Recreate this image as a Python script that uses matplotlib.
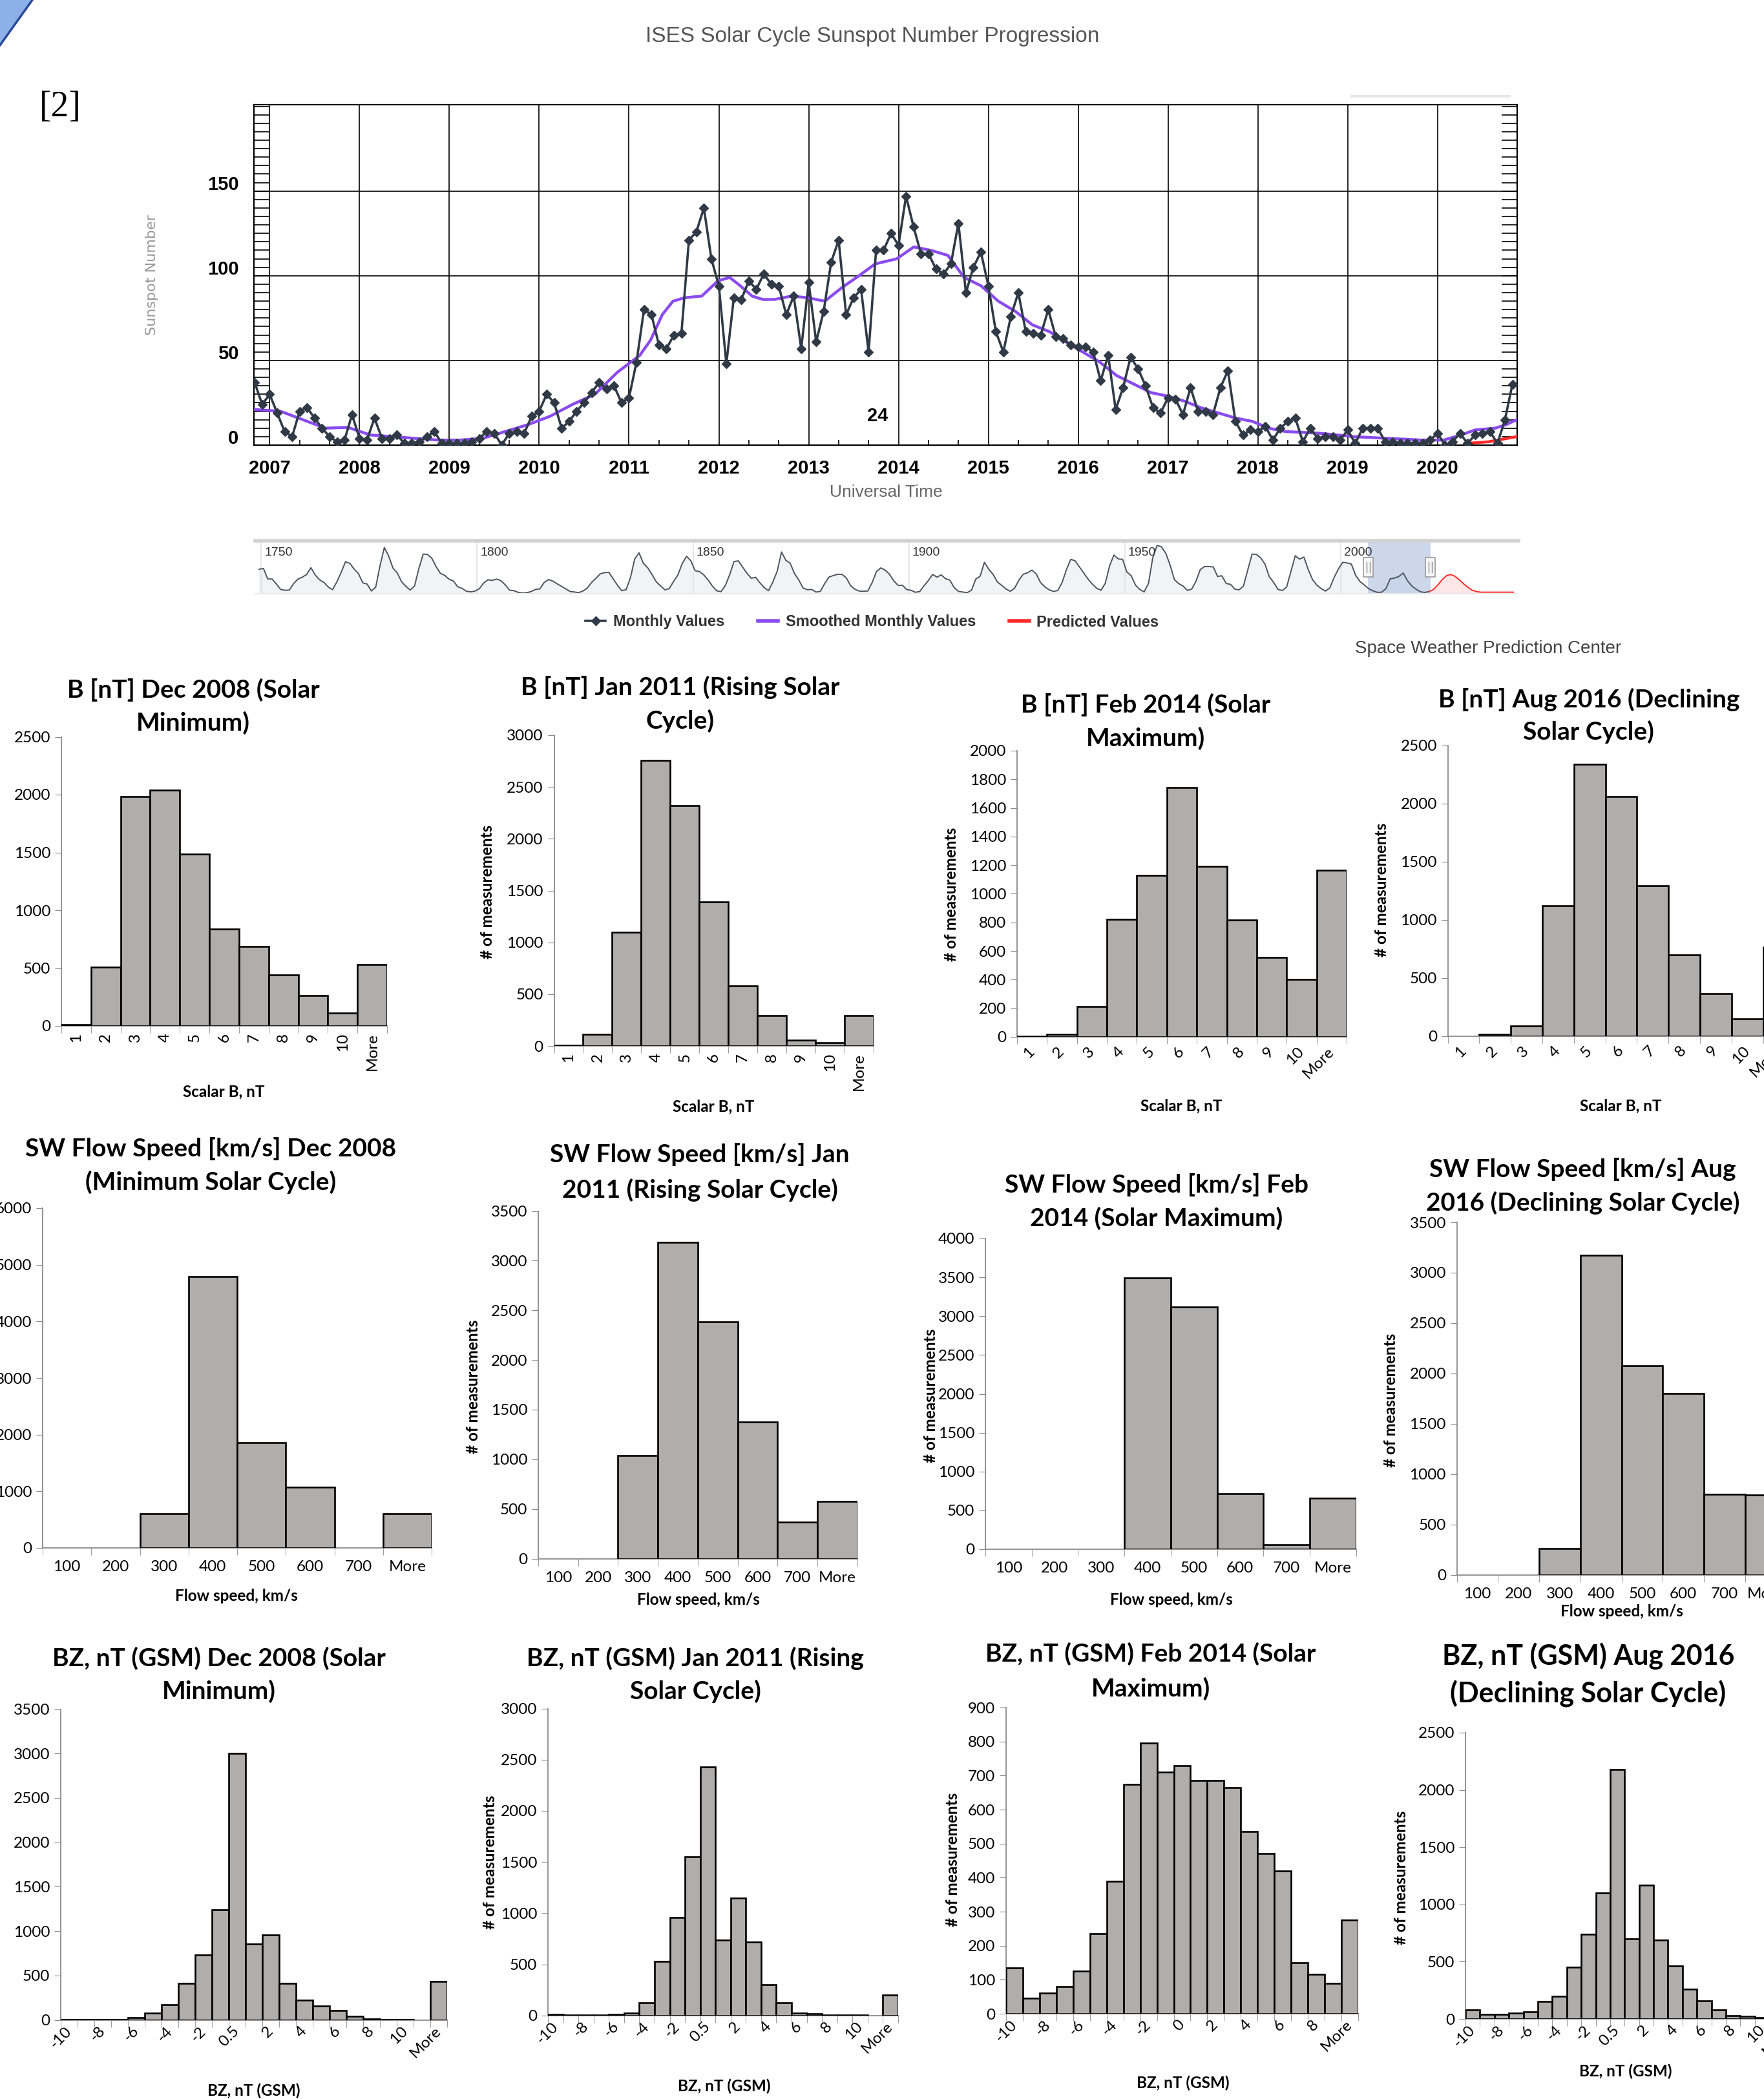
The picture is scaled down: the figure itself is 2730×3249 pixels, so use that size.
import numpy as np
import matplotlib
matplotlib.use("Agg")
import matplotlib.pyplot as plt
import matplotlib.transforms as mtransforms
from matplotlib.ticker import MultipleLocator
from matplotlib.lines import Line2D
from matplotlib.patches import Polygon, Rectangle

# ---------------- ISES sunspot chart ----------------
months_start = 2006 + 10 / 12.0   # first monthly point = Nov 2006
monthly_ssn = [37, 24, 30, 19, 8, 5, 20, 22, 16, 10,
               5, 2, 3, 18, 4, 3, 16, 4, 4, 6,
               1, 1, 2, 5, 8, 1, 1, 1, 1, 2,
               4, 8, 7, 0, 7, 8, 7, 17, 20, 30,
               25, 10, 14, 20, 25, 31, 37, 33, 35, 25,
               28, 49, 80, 77, 59, 57, 65, 66, 121, 126,
               140, 110, 94, 48, 87, 86, 97, 92, 101, 95,
               94, 77, 88, 57, 96, 61, 79, 108, 121, 77,
               87, 92, 55, 115, 115, 125, 118, 147, 129, 113,
               113, 104, 101, 107, 131, 90, 105, 114, 94, 67,
               55, 76, 90, 67, 66, 65, 80, 64, 63, 59,
               58, 58, 55, 38, 53, 21, 34, 52, 45, 35,
               22, 19, 28, 27, 18, 34, 20, 20, 18, 34,
               44, 14, 6, 9, 8, 11, 3, 10, 14, 16,
               2, 10, 4, 5, 5, 3, 9, 1, 10, 10,
               10, 2, 2, 1, 1, 1, 1, 3, 7, 0,
               2, 7, 1, 6, 7, 8, 1, 15, 36]

smooth_years = [2006.84, 2007.12, 2007.37, 2007.62, 2007.87, 2008.12, 2008.37, 2008.62, 2008.87,
                2009.12, 2009.37, 2009.62, 2009.87, 2010.12, 2010.37, 2010.62, 2010.87, 2011.12,
                2011.24, 2011.37, 2011.49, 2011.62, 2011.81, 2011.99, 2012.12, 2012.24, 2012.37,
                2012.49, 2012.62, 2012.81, 2012.99, 2013.18, 2013.37, 2013.56, 2013.74, 2013.98,
                2014.17, 2014.36, 2014.55, 2014.73, 2014.92, 2015.11, 2015.30, 2015.49, 2015.68,
                2015.86, 2016.05, 2016.24, 2016.43, 2016.62, 2016.81, 2016.99, 2017.18, 2017.37,
                2017.56, 2017.75, 2017.94, 2018.12, 2018.31, 2018.69, 2019.07, 2019.44, 2019.82,
                2020.07, 2020.26, 2020.42, 2020.64, 2020.76, 2020.88]
smooth_ssn = [21, 20, 15, 10, 10.5, 6, 5, 4, 3, 3, 4, 8, 12, 17, 24, 30, 43, 53, 62, 77,
              85, 87, 88, 97, 99, 94, 88, 86, 86, 88, 87, 85, 93, 100, 107, 110, 117, 115, 112, 99,
              94, 85, 79, 71, 67, 61, 55, 49, 41, 36, 31, 29, 26, 22, 19, 16, 14, 10, 8, 7,
              5, 4, 3, 3, 6, 9, 10, 12, 15]

pred_years = [2020.32, 2020.57, 2020.88]
pred_ssn = [1, 2, 5]

# navigator: yearly sunspot numbers 1749 .. 2020, then the prediction
nav_first_year = 1749
nav_ssn = [134.7, 139.0, 79.5, 79.7, 51.2, 20.3, 16.0, 17.0, 54.0, 79.3,
           90.0, 104.8, 143.2, 102.0, 75.2, 60.7, 34.8, 19.0, 63.0, 116.3,
           176.8, 168.0, 136.0, 110.8, 58.0, 51.0, 11.7, 33.0, 154.2, 257.3,
           209.8, 141.3, 113.5, 64.2, 38.0, 17.0, 40.2, 138.2, 220.0, 218.2,
           196.8, 149.8, 111.0, 100.0, 78.2, 68.3, 35.5, 26.7, 10.7, 6.8,
           11.3, 24.2, 56.7, 75.0, 71.8, 79.2, 70.3, 46.8, 16.8, 13.5,
           4.2, 0.0, 2.3, 8.3, 20.3, 23.2, 59.0, 76.3, 68.3, 52.9,
           38.5, 24.2, 9.2, 6.3, 2.2, 11.4, 28.2, 59.9, 83.0, 108.5,
           115.2, 117.4, 80.8, 44.3, 13.4, 19.5, 85.8, 192.7, 227.3, 168.7,
           143.0, 105.5, 63.3, 40.3, 18.1, 25.1, 65.8, 102.7, 166.3, 208.3,
           182.5, 126.3, 122.0, 102.7, 74.1, 39.0, 12.7, 8.2, 43.4, 104.4,
           178.3, 182.2, 146.6, 112.1, 83.5, 89.2, 57.8, 30.7, 13.9, 62.8,
           123.6, 232.0, 185.3, 169.2, 110.1, 74.5, 28.3, 18.9, 20.7, 5.7,
           10.0, 53.7, 90.5, 99.0, 106.1, 105.8, 86.3, 42.4, 21.8, 11.2,
           10.4, 11.8, 59.5, 121.7, 142.0, 130.0, 106.6, 69.4, 43.8, 44.4,
           20.2, 15.7, 4.6, 8.5, 40.8, 70.1, 105.5, 90.1, 102.8, 80.9,
           73.2, 30.9, 9.5, 6.0, 2.4, 16.1, 79.0, 95.0, 173.6, 134.6,
           105.7, 62.7, 43.5, 23.7, 9.7, 27.9, 74.0, 106.5, 114.7, 129.7,
           108.2, 59.4, 35.1, 18.6, 9.2, 14.6, 60.2, 132.8, 190.6, 182.6,
           148.0, 113.0, 79.2, 50.8, 27.1, 16.1, 55.3, 154.3, 214.7, 193.0,
           190.7, 118.9, 98.3, 45.0, 20.1, 6.6, 54.2, 200.7, 269.3, 261.7,
           225.1, 159.0, 76.4, 53.4, 39.9, 15.0, 22.0, 66.8, 132.9, 150.0,
           149.4, 148.0, 94.4, 97.6, 54.1, 49.2, 22.5, 18.4, 39.3, 131.0,
           220.1, 218.9, 198.9, 162.4, 91.0, 60.5, 20.6, 14.8, 33.9, 123.0,
           211.1, 191.8, 203.3, 133.0, 76.1, 44.9, 25.1, 11.6, 28.9, 88.3,
           136.3, 173.9, 170.4, 163.6, 99.3, 65.3, 45.8, 24.7, 12.6, 4.2,
           4.8, 24.9, 80.8, 84.5, 94.0, 113.3, 69.8, 39.8, 21.7, 7.0,
           3.6, 8.8]
nav_pred_years = [2020.5, 2021.5, 2022.5, 2023.5, 2024.5, 2025.5, 2026.5, 2027.5, 2028.5,
                  2029.5, 2030.5, 2031.5, 2032.5, 2034, 2037, 2040]
nav_pred_ssn = [8, 20, 45, 75, 98, 105, 95, 75, 52, 32, 16, 8, 5, 5, 5, 5]
nav_labels = [1750, 1800, 1850, 1900, 1950, 2000]

# ---------------- histograms (counts) ----------------
b_bins = ['1', '2', '3', '4', '5', '6', '7', '8', '9', '10', 'More']
b_dec2008 = [12, 511, 1984, 2041, 1486, 840, 685, 444, 264, 110, 533]
b_jan2011 = [5, 112, 1096, 2754, 2319, 1389, 581, 292, 57, 29, 292]
b_feb2014 = [3, 16, 210, 823, 1129, 1742, 1194, 819, 554, 403, 1163]
b_aug2016 = [0, 12, 87, 1122, 2336, 2058, 1293, 698, 365, 146, 762]

sw_bins = ['100', '200', '300', '400', '500', '600', '700', 'More']
sw_dec2008 = [0, 0, 603, 4789, 1862, 1071, 0, 608]
sw_jan2011 = [0, 0, 1035, 3187, 2386, 1379, 365, 574]
sw_feb2014 = [0, 0, 0, 3490, 3118, 718, 59, 655]
sw_aug2016 = [0, 0, 260, 3173, 2077, 1801, 802, 793]

bz_bins = ['-10', '-9', '-8', '-7', '-6', '-5', '-4', '-3', '-2', '-1', '0.5',
           '1', '2', '3', '4', '5', '6', '7', '8', '9', '10', '11', 'More']
bz_dec2008 = [8, 8, 5, 8, 30, 80, 175, 410, 735, 1245, 3000, 855, 960, 415, 225,
              155, 105, 45, 12, 5, 5, 0, 435]
bz_jan2011 = [10, 5, 5, 3, 10, 25, 125, 530, 960, 1550, 2430, 740, 1145, 715, 300,
              125, 25, 15, 5, 5, 5, 0, 200]
bz_aug2016 = [80, 40, 40, 50, 60, 150, 200, 450, 740, 1100, 2180, 700, 1170, 690, 460,
              260, 160, 80, 30, 20, 10, 5, 300]
bz_bins_feb = ['-10', '-9', '-8', '-7', '-6', '-5', '-4', '-3', '-2', '-1', '0',
               '1', '2', '3', '4', '5', '6', '7', '8', '9', 'More']
bz_feb2014 = [135, 45, 60, 80, 125, 235, 390, 675, 795, 710, 730, 685, 685, 665, 535,
              470, 420, 150, 115, 90, 275]

# ---------------- styling ----------------
plt.rcParams['font.family'] = ['Lato', 'DejaVu Sans']
SANS = ['Liberation Sans', 'DejaVu Sans']
DARK = '#2f3a46'
PURPLE = '#8a4bf0'
RED = '#ff2a2a'
BAR = '#b0adad'
AXG = '#8a8a8a'

W, H = 2730, 3249
fig = plt.figure(figsize=(W / 100, H / 100), dpi=100)


def box(l, t, r, b):
    return [l / W, 1 - b / H, (r - l) / W, (b - t) / H]


def fx(x):
    return x / W


def fy(y):
    return 1 - y / H


# slide decoration in the corner
fig.add_artist(Polygon([(0, 1), (fx(50), 1), (0, fy(70))], closed=True,
                       transform=fig.transFigure, facecolor='#8db0e8', edgecolor='none'))
fig.add_artist(Line2D([fx(50), 0], [1, fy(70)], transform=fig.transFigure, color='#27489a', lw=2.5))

fig.text(fx(93), fy(166), '[2]', family=['Liberation Serif', 'DejaVu Serif'], fontsize=40,
         ha='center', va='center')
fig.text(fx(1350), fy(56), 'ISES Solar Cycle Sunspot Number Progression', family=SANS,
         fontsize=24, color='#555555', ha='center', va='center')
fig.add_artist(Line2D([fx(2092), fx(2336)], [fy(149), fy(149)], transform=fig.transFigure,
                      color='#e6e6e6', lw=3))

# ---- main sunspot plot ----
ax = fig.add_axes(box(393, 162, 2348, 689))
mx = months_start + np.arange(len(monthly_ssn)) / 12.0
ax.plot(mx, monthly_ssn, color=DARK, lw=2.6, marker='D', ms=7.5, zorder=4)
ax.plot(smooth_years, smooth_ssn, color=PURPLE, lw=3.2, zorder=3)
ax.plot(pred_years, pred_ssn, color=RED, lw=3.2, zorder=3)
ax.set_xlim(2006.825, 2020.886)
ax.set_ylim(0, 201)
ax.set_xticks(range(2007, 2021))
ax.set_yticks([0, 50, 100, 150])
ax.grid(True, color='black', lw=1.2, zorder=1)
ax.xaxis.set_minor_locator(MultipleLocator(1 / 3))
ax.yaxis.set_minor_locator(MultipleLocator(5))
ax.tick_params(axis='x', which='major', length=0, pad=16, labelsize=21)
ax.tick_params(axis='x', which='minor', direction='in', length=6, width=1.2)
ax.tick_params(axis='y', which='both', direction='in', length=17, width=1.2,
               left=True, right=True, pad=17, labelsize=21)
for s in ax.spines.values():
    s.set_linewidth(1.6)
for lab in ax.get_xticklabels() + ax.get_yticklabels():
    lab.set_fontfamily(SANS)
    lab.set_fontweight('bold')
shift = mtransforms.ScaledTranslation(0, 13 / 100, fig.dpi_scale_trans)
for lab in ax.get_yticklabels():
    lab.set_transform(lab.get_transform() + shift)
ax.text(2013.77, 17, '24', family=SANS, fontsize=21, fontweight='bold', ha='center', va='center')
fig.text(fx(235), fy(426), 'Sunspot Number', family='DejaVu Sans', fontsize=16, color='#9a9a9a',
         rotation=90, ha='center', va='center')
fig.text(fx(1371), fy(762), 'Universal Time', family=SANS, fontsize=19, color='#666666',
         ha='center', va='center')

# ---- navigator ----
nav = fig.add_axes(box(395, 838, 2348, 918))
ny = nav_first_year + 0.5 + np.arange(len(nav_ssn))
nav.fill_between(ny, nav_ssn, color='#f1f3f6', zorder=1)
nav.fill_between(nav_pred_years, nav_pred_ssn, color='#fde6e6', zorder=1)
nav.axvspan(2006.4, 2020.8, color='#c3d0e8', alpha=0.85, zorder=2, lw=0)
nav.plot(ny, nav_ssn, color='#4d5560', lw=1.4, zorder=3)
nav.plot(nav_pred_years, nav_pred_ssn, color=RED, lw=1.4, zorder=3)
nav.set_xlim(1748.6, 2040.9)
nav.set_ylim(0, 292)
nav.set_xticks(nav_labels)
nav.set_yticks([])
nav.grid(True, axis='x', color='#e2e2e2', lw=1.2, zorder=0)
nav.tick_params(axis='x', length=0, labelbottom=False)
for s in nav.spines.values():
    s.set_visible(False)
for yr in nav_labels:
    nav.text(yr + 0.8, 0.78, str(yr), transform=nav.get_xaxis_transform(), family=SANS,
             fontsize=14, color='#333333', ha='left', va='center', zorder=5)
for edge in (2006.4, 2020.8):
    nav.add_patch(Rectangle((edge - 1.1, 0.31), 2.2, 0.38, transform=nav.get_xaxis_transform(),
                            facecolor='#f7f7f7', edgecolor='#9a9a9a', lw=1.2, zorder=6))
    for dx in (-0.35, 0.35):
        nav.plot([edge + dx, edge + dx], [0.4, 0.6], transform=nav.get_xaxis_transform(),
                 color='#888888', lw=1, zorder=7)
fig.add_artist(Line2D([fx(395), fx(2350)], [fy(837), fy(837)], transform=fig.transFigure,
                      color='#d2d2d2', lw=4))
fig.add_artist(Line2D([fx(395), fx(2348)], [fy(919), fy(919)], transform=fig.transFigure,
                      color='#e8e8e8', lw=1.5))

handles = [Line2D([], [], color=DARK, lw=2.6, marker='D', ms=7.5),
           Line2D([], [], color=PURPLE, lw=4),
           Line2D([], [], color=RED, lw=4)]
fig.legend(handles, ['Monthly Values', 'Smoothed Monthly Values', 'Predicted Values'],
           loc='center', bbox_to_anchor=(fx(1350), fy(963)), ncol=3, frameon=False,
           prop={'family': SANS, 'weight': 'bold', 'size': 17}, labelcolor='#333333',
           handlelength=1.3, handletextpad=0.5, columnspacing=2.2)
fig.text(fx(2303), fy(1004), 'Space Weather Prediction Center', family=SANS, fontsize=20,
         color='#444444', ha='center', va='center')


# ---------------- histogram panels ----------------
def hist_panel(l, t, r, b, cats, vals, ymax, ystep, rot, every=1, pad=6, fs=17.5):
    a = fig.add_axes(box(l, t, r, b))
    a.patch.set_alpha(0)
    x = np.arange(len(cats))
    edges = ['black' if v > 0 else 'none' for v in vals]
    a.bar(x, vals, width=1.0, color=BAR, edgecolor=edges, linewidth=1.9, zorder=3)
    a.set_xlim(-0.5, len(cats) - 0.5)
    a.set_ylim(0, ymax)
    a.set_yticks(np.arange(0, ymax + 1, ystep))
    a.set_xticks(x[::every])
    a.set_xticklabels(cats[::every])
    a.set_xticks(np.arange(len(cats) + 1) - 0.5, minor=True)
    for s in ('top', 'right'):
        a.spines[s].set_visible(False)
    for s in ('left', 'bottom'):
        a.spines[s].set_color(AXG)
        a.spines[s].set_linewidth(1.3)
    a.tick_params(axis='y', length=7, color=AXG, labelsize=fs, pad=5)
    a.tick_params(axis='x', which='major', length=0, labelsize=fs, pad=pad)
    a.tick_params(axis='x', which='minor', length=8, color=AXG)
    for lab in a.get_xticklabels():
        if rot == 90:
            lab.set_rotation(90)
            lab.set_ha('center')
            lab.set_va('top')
        elif rot == 45:
            lab.set_rotation(45)
            lab.set_ha('right')
            lab.set_va('center')
            lab.set_rotation_mode('anchor')
    return a


def texts(title_xy, lines, xlabel, xl_xy, yl_xy, tsize=28):
    tx, ty1, ty2 = title_xy
    fig.text(fx(tx), fy(ty1), lines[0], fontsize=tsize, fontweight='bold', ha='center', va='center')
    fig.text(fx(tx), fy(ty2), lines[1], fontsize=tsize, fontweight='bold', ha='center', va='center')
    fig.text(fx(xl_xy[0]), fy(xl_xy[1]), xlabel, fontsize=17.5, fontweight='bold',
             ha='center', va='center')
    fig.text(fx(yl_xy[0]), fy(yl_xy[1]), '# of measurements', fontsize=17.5, fontweight='bold',
             rotation=90, ha='center', va='center')


# row 1: scalar B
hist_panel(95, 1140.5, 599, 1588, b_bins, b_dec2008, 2500, 500, 90, pad=8)
texts((299, 1068, 1119), ('B [nT] Dec 2008 (Solar', 'Minimum)'), 'Scalar B, nT', (346, 1690), (-7, 1364))
hist_panel(857.5, 1138, 1352, 1619, b_bins, b_jan2011, 3000, 500, 90, pad=8)
texts((1052.6, 1063.6, 1116), ('B [nT] Jan 2011 (Rising Solar', 'Cycle)'), 'Scalar B, nT',
      (1104, 1713), (754, 1380))
hist_panel(1574, 1162, 2084, 1605, b_bins, b_feb2014, 2000, 200, 45, pad=14)
texts((1773, 1091, 1143), ('B [nT] Feb 2014 (Solar', 'Maximum)'), 'Scalar B, nT',
      (1828, 1712), (1473, 1384))
hist_panel(2240.6, 1154, 2777.4, 1603.5, b_bins, b_aug2016, 2500, 500, 45, pad=14)
texts((2458.8, 1082.5, 1132.5), ('B [nT] Aug 2016 (Declining', 'Solar Cycle)'), 'Scalar B, nT',
      (2507.8, 1712), (2138, 1377))

# row 2: solar wind flow speed
hist_panel(66, 1870, 668, 2396, sw_bins, sw_dec2008, 6000, 1000, 0, pad=14)
texts((326, 1778, 1830), ('SW Flow Speed [km/s] Dec 2008', '(Minimum Solar Cycle)'),
      'Flow speed, km/s', (366, 2471), (-60, 2133))
hist_panel(833, 1874.5, 1326.7, 2412.5, sw_bins, sw_jan2011, 3500, 500, 0, pad=14)
texts((1083, 1787, 1841.5), ('SW Flow Speed [km/s] Jan', '2011 (Rising Solar Cycle)'),
      'Flow speed, km/s', (1081, 2476), (732, 2146))
hist_panel(1525, 1917, 2098.6, 2398, sw_bins, sw_feb2014, 4000, 500, 0, pad=14)
texts((1789.6, 1834, 1886), ('SW Flow Speed [km/s] Feb', '2014 (Solar Maximum)'),
      'Flow speed, km/s', (1813, 2476), (1440, 2160))
hist_panel(2254.7, 1892, 2764.3, 2437.5, sw_bins, sw_aug2016, 3500, 500, 0, pad=14)
texts((2449.5, 1810, 1862), ('SW Flow Speed [km/s] Aug', '2016 (Declining Solar Cycle)'),
      'Flow speed, km/s', (2510, 2495), (2152, 2167))

# row 3: BZ (GSM)
hist_panel(93.75, 2645.5, 692, 3126.7, bz_bins, bz_dec2008, 3500, 500, 45, every=2, pad=10)
texts((339, 2566.5, 2617.6), ('BZ, nT (GSM) Dec 2008 (Solar', 'Minimum)'), 'BZ, nT (GSM)',
      (393, 3236), (-7, 2886))
hist_panel(848, 2644.6, 1390, 3119.7, bz_bins, bz_jan2011, 3000, 500, 45, every=2, pad=10)
texts((1076, 2566.5, 2617.6), ('BZ, nT (GSM) Jan 2011 (Rising', 'Solar Cycle)'), 'BZ, nT (GSM)',
      (1120.5, 3229), (759, 2882.6))
hist_panel(1557, 2643, 2102, 3117, bz_bins_feb, bz_feb2014, 900, 100, 45, every=2, pad=10)
texts((1781, 2560, 2613.6), ('BZ, nT (GSM) Feb 2014 (Solar', 'Maximum)'), 'BZ, nT (GSM)',
      (1831, 3224), (1474.5, 2878.7))
hist_panel(2268, 2682, 2783, 3125, bz_bins, bz_aug2016, 2500, 500, 45, every=2, pad=10)
texts((2458, 2564, 2622), ('BZ, nT (GSM) Aug 2016', '(Declining Solar Cycle)'), 'BZ, nT (GSM)',
      (2516, 3206), (2168, 2906), tsize=31)

fig.savefig('out.png', dpi=100, facecolor='white')
